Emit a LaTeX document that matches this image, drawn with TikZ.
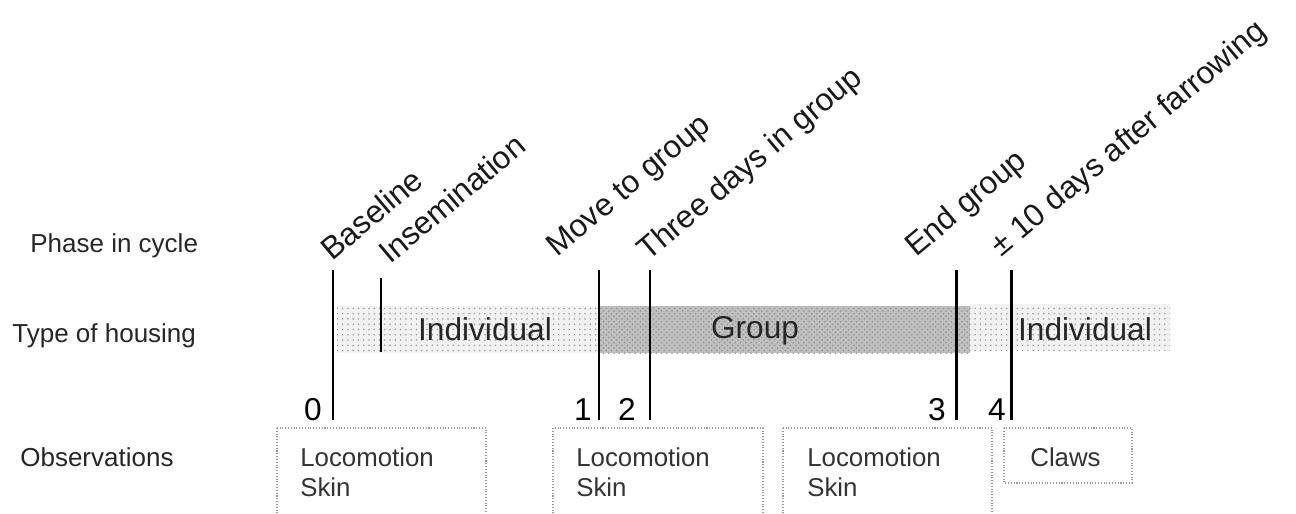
\documentclass[tikz,border=0pt]{standalone}
\usepackage{fontspec}
\setmainfont{Liberation Sans}
\usetikzlibrary{positioning}
\usetikzlibrary{patterns}

\begin{document}
\begin{tikzpicture}[x=0.02cm, y=-0.02cm,
  event/.style={black, line width=1.7pt},
  phase/.style={rotate=40, anchor=base west, inner sep=0pt, text=black!90, font=\fontsize{18}{21}\selectfont},
  rowlabel/.style={anchor=base west, inner sep=0pt, text=black!85, font=\fontsize{14.8}{17}\selectfont},
  housing/.style={anchor=base, inner sep=0pt, text=black!85, font=\fontsize{18}{21}\selectfont},
  num/.style={anchor=base, inner sep=0pt, font=\fontsize{18}{21}\selectfont},
  obsbox/.style={draw=gray!80, densely dotted, line width=0.6pt},
  obstext/.style={inner sep=0pt, align=left, text=black!80, font=\fontsize{14.7}{17.6}\selectfont},
  indiv/.style={preaction={fill=gray!10}, pattern=dots, pattern color=gray!75},
  grp/.style={preaction={fill=gray!50}, pattern=crosshatch dots, pattern color=gray!85}]

\clip (0,0) rectangle (1296,514);

% row labels
\node[rowlabel] (phaselbl) at (30,252) {Phase in cycle};
\node[rowlabel] (houselbl) at (12,342) {Type of housing};
\node[rowlabel] (obslbl) at (20,466) {Observations};

% housing bars
{
\fill[indiv] (337,306) rectangle (598,353);
\fill[grp] (598,306) rectangle (970,353);
\fill[indiv] (970,304) rectangle (1170,350);
}
\node[housing] (ind1) at (485,340) {Individual};
\node[housing] (grouplbl) at (755,338) {Group};
\node[housing] (ind2) at (1085,340) {Individual};

% event lines
\coordinate (e0a) at (333,270); \coordinate (e0b) at (333,420);
\coordinate (insa) at (381,278); \coordinate (insb) at (381,352);
\coordinate (e1a) at (599,270); \coordinate (e1b) at (599,420);
\coordinate (e2a) at (650,270); \coordinate (e2b) at (650,420);
\coordinate (e3a) at (956,270); \coordinate (e3b) at (956,420);
\coordinate (e4a) at (1011,270); \coordinate (e4b) at (1011,420);
\draw[event] (e0a) -- (e0b);
\draw[event] (insa) -- (insb);
\draw[event] (e1a) -- (e1b);
\draw[event] (e2a) -- (e2b);
\draw[event] (e3a) -- (e3b);
\draw[event] (e4a) -- (e4b);

% phase names
\node[phase] (baseline) at (332,262) {Baseline};
\node[phase] (insem) at (390,265) {Insemination};
\node[phase] (move) at (557,258) {Move to group};
\node[phase] (three) at (648,262) {Three days in group};
\node[phase] (endgrp) at (916,258) {End group};
\node[phase] (farrow) at (1001,258) {± 10 days after farrowing};

% numbers
\node[num] (n0) at (313,420) {0};
\node[num] (n1) at (583,420) {1};
\node[num] (n2) at (627,420) {2};
\node[num] (n3) at (937,420) {3};
\node[num] (n4) at (997,420) {4};

% observation boxes
\draw[obsbox] (277,428) rectangle (486,530);
\draw[obsbox] (553,428) rectangle (763,530);
\draw[obsbox] (783,428) rectangle (992,530);
\draw[obsbox] (1004,428) rectangle (1132,483);
\node[obstext, anchor=north west] (obs0) at (300,447) {Locomotion\\Skin};
\node[obstext, anchor=north west] (obs1) at (576,447) {Locomotion\\Skin};
\node[obstext, anchor=north west] (obs2) at (807,447) {Locomotion\\Skin};
\node[obstext, anchor=west] (obs3) at (1030,457) {Claws};

\end{tikzpicture}
\end{document}
